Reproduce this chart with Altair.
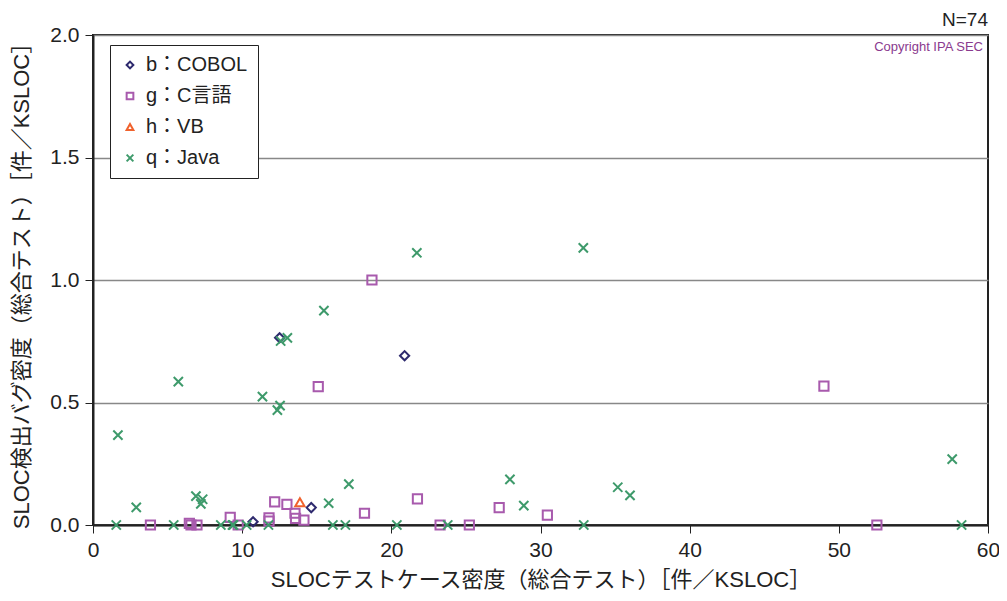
import altair as alt
import pandas as pd

cobol_x = [10.73, 14.63, 12.51, 20.89]
cobol_y = [0.013, 0.071, 0.764, 0.691]

c_x = [3.85, 6.46, 6.57, 6.97, 9.2, 9.73, 11.8, 11.8, 12.18, 13.0, 13.54, 13.58, 14.14,
       18.2, 21.75, 23.27, 25.23, 27.23, 30.46, 52.55, 18.7, 15.1, 49.0]
c_y = [0.0, 0.007, 0.0, 0.0, 0.031, 0.0, 0.029, 0.016, 0.094, 0.084, 0.048, 0.027, 0.02,
       0.048, 0.107, 0.0, 0.0, 0.071, 0.04, 0.0, 1.0, 0.565, 0.567]

vb_x = [13.87]
vb_y = [0.093]

java_x = [1.56, 2.9, 5.41, 6.9, 7.35, 7.23, 8.57, 9.35, 9.42, 10.3, 11.76, 15.8, 16.08, 16.92,
          17.15, 20.37, 23.78, 27.95, 28.88, 32.9, 35.18, 36.0, 57.6, 58.23, 21.71, 15.48,
          12.58, 13.03, 5.72, 11.36, 12.54, 12.36, 1.67, 32.87]
java_y = [0.0, 0.072, 0.0, 0.118, 0.105, 0.086, 0.0, 0.0, 0.0, 0.0, 0.0, 0.089, 0.0, 0.0,
          0.167, 0.0, 0.0, 0.186, 0.079, 0.0, 0.154, 0.121, 0.269, 0.0, 1.111, 0.875,
          0.751, 0.764, 0.585, 0.524, 0.487, 0.469, 0.367, 1.131]

series = ["b：COBOL", "g：C言語", "h：VB", "q：Java"]
colors = ["#2e2a6e", "#a85aad", "#f0622d", "#3e9a6b"]
shapes = ["diamond", "square", "triangle-up", "M-1,-1L1,1M1,-1L-1,1"]

rows = []
for name, xs, ys in zip(series, [cobol_x, c_x, vb_x, java_x], [cobol_y, c_y, vb_y, java_y]):
    for a, b in zip(xs, ys):
        rows.append({"x": a, "y": b, "s": name})
df = pd.DataFrame(rows)

MIX = "Liberation Sans, Noto Sans CJK JP"
LFONT = "Liberation Sans"

points = alt.Chart(df).mark_point(filled=False, strokeWidth=2, size=85, opacity=1).encode(
    x=alt.X("x:Q", scale=alt.Scale(domain=[0, 60], nice=False),
            axis=alt.Axis(title="SLOCテストケース密度（総合テスト）［件／KSLOC］",
                          values=[0, 10, 20, 30, 40, 50, 60], grid=False, labelFlush=False,
                          tickSize=8, tickColor="#222", domainColor="#222", domainWidth=2,
                          labelFontSize=21, titleFontSize=22, labelFont=LFONT, titleFont=MIX,
                          titleFontWeight="normal", labelColor="#222", titleColor="#222",
                          labelPadding=6, titlePadding=9)),
    y=alt.Y("y:Q", scale=alt.Scale(domain=[0, 2], nice=False),
            axis=alt.Axis(title="SLOC検出バグ密度（総合テスト）［件／KSLOC］",
                          values=[0, 0.5, 1.0, 1.5, 2.0], format=".1f", labelFlush=False,
                          grid=True, gridColor="#888", gridWidth=1.5,
                          tickSize=8, tickColor="#222", domainColor="#222", domainWidth=2,
                          labelFontSize=21, titleFontSize=22, labelFont=LFONT, titleFont=MIX,
                          titleFontWeight="normal", labelColor="#222", titleColor="#222",
                          labelPadding=6, titlePadding=16)),
    color=alt.Color("s:N", scale=alt.Scale(domain=series, range=colors),
                    legend=alt.Legend(title=None, orient="none", legendX=17, legendY=10,
                                      fillColor="white", strokeColor="#222", padding=10,
                                      labelFontSize=20, labelFont=MIX, labelColor="#222",
                                      rowPadding=11, symbolStrokeWidth=2, symbolSize=45,
                                      symbolOffset=0, labelOffset=6)),
    shape=alt.Shape("s:N", scale=alt.Scale(domain=series, range=shapes), legend=None),
)

ntext = alt.Chart(pd.DataFrame({"t": ["N=74"]})).mark_text(
    align="right", baseline="middle", fontSize=19, font=LFONT, color="#222"
).encode(x=alt.value(895), y=alt.value(-15), text="t:N")

copy = alt.Chart(pd.DataFrame({"t": ["Copyright IPA SEC"]})).mark_text(
    align="right", baseline="middle", fontSize=13, font=LFONT, color="#8a3a8e"
).encode(x=alt.value(890), y=alt.value(12), text="t:N")

chart = alt.layer(points, ntext, copy).properties(
    width=895, height=490,
    autosize=alt.AutoSizeParams(type="none"),
    padding={"left": 85, "top": 27, "right": 11, "bottom": 68},
).configure_view(stroke="#222", strokeWidth=2)

chart.save("out.html", embed_options={"renderer": "svg", "actions": False})
